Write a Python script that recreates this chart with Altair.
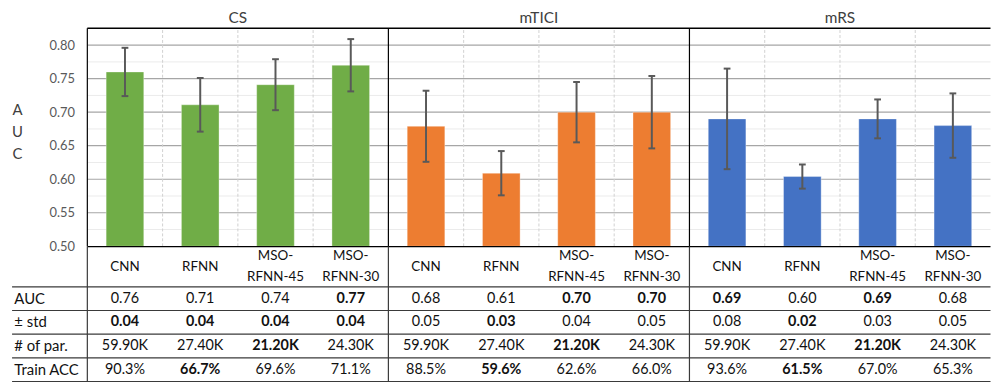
import altair as alt
import pandas as pd

# ---------------- data ----------------
panels = ["CS", "mTICI", "mRS"]
panel_colors = ["#70AD47", "#ED7D31", "#4472C4"]
models = ["CNN", "RFNN", "MSO-\nRFNN-45", "MSO-\nRFNN-30"]

cs_auc = [0.760, 0.711, 0.741, 0.770]
mtici_auc = [0.679, 0.609, 0.700, 0.700]
mrs_auc = [0.690, 0.604, 0.690, 0.680]

cs_err = [0.036, 0.040, 0.038, 0.039]
mtici_err = [0.053, 0.033, 0.045, 0.054]
mrs_err = [0.075, 0.018, 0.029, 0.048]

auc_ticks = [0.50, 0.55, 0.60, 0.65, 0.70, 0.75, 0.80]
minor_ticks = [0.525, 0.575, 0.625, 0.675, 0.725, 0.775]

row_labels = ["AUC", "\u00b1 std", "# of par.", "Train ACC"]
row_auc = ["0.76", "0.71", "0.74", "0.77", "0.68", "0.61", "0.70", "0.70", "0.69", "0.60", "0.69", "0.68"]
row_auc_bold = [0, 0, 0, 1, 0, 0, 1, 1, 1, 0, 1, 0]
row_std = ["0.04", "0.04", "0.04", "0.04", "0.05", "0.03", "0.04", "0.05", "0.08", "0.02", "0.03", "0.05"]
row_std_bold = [1, 1, 1, 1, 0, 1, 0, 0, 0, 1, 0, 0]
row_par = ["59.90K", "27.40K", "21.20K", "24.30K"] * 3
row_par_bold = [0, 0, 1, 0] * 3
row_acc = ["90.3%", "66.7%", "69.6%", "71.1%", "88.5%", "59.6%", "62.6%", "66.0%", "93.6%", "61.5%", "67.0%", "65.3%"]
row_acc_bold = [0, 1, 0, 0, 0, 1, 0, 0, 0, 1, 0, 0]

# ---------------- layout helpers ----------------
W, H = 991, 377
FONT = "Lato"
NS = len(panels) * len(models)  # 12 slots
HEADER_H = 1.7  # header row height in row units
X_SCALE = alt.Scale(domain=[-1, NS], range=[4.1, 990.5], nice=False, zero=False)
AUC_SCALE = alt.Scale(domain=[0.5, 0.825], range=[238.7, 19], nice=False, zero=False)
TAB_SCALE = alt.Scale(domain=[0, HEADER_H + 4], range=[239, 375], nice=False, zero=False)

aucs = [cs_auc, mtici_auc, mrs_auc]
errs = [cs_err, mtici_err, mrs_err]

bars = []
for p, panel in enumerate(panels):
    for c, m in enumerate(models):
        s = p * len(models) + c
        a, e = aucs[p][c], errs[p][c]
        bars.append(dict(panel=panel, model=m, x0=s + 0.25, x1=s + 0.75, xm=s + 0.5,
                         cl=s + 0.455, cr=s + 0.545, auc=a, lo=a - e, hi=a + e))
bars = pd.DataFrame(bars)


def X(field):
    return alt.X(field, type="quantitative", scale=X_SCALE, axis=None)


def YA(field):
    return alt.Y(field, type="quantitative", scale=AUC_SCALE, axis=None)


def YT(field):
    return alt.Y(field, type="quantitative", scale=TAB_SCALE, axis=None)


layers = []

# minor gridlines
layers.append(alt.Chart(pd.DataFrame({"v": minor_ticks})).mark_rule(color="#ebebeb", strokeWidth=1).encode(
    x=alt.X(datum=0, type="quantitative", scale=X_SCALE, axis=None),
    x2=alt.X2(datum=NS), y=YA("v")))
# major gridlines
layers.append(alt.Chart(pd.DataFrame({"v": auc_ticks[1:]})).mark_rule(color="#a6a6a6", strokeWidth=1.2).encode(
    x=alt.X(datum=0, type="quantitative", scale=X_SCALE, axis=None),
    x2=alt.X2(datum=NS), y=YA("v")))
# dashed category separators
sep = [s for s in range(1, NS) if s % len(models) != 0]
layers.append(alt.Chart(pd.DataFrame({"s": sep})).mark_rule(color="#d0d0d0", strokeDash=[3, 2], strokeWidth=1).encode(
    x=X("s"), y=alt.Y(datum=0.5, type="quantitative", scale=AUC_SCALE, axis=None), y2=alt.Y2(datum=0.825)))

# bars with the AUC axis
layers.append(alt.Chart(bars).mark_bar(stroke="#ffffff", strokeOpacity=0.35, strokeWidth=1).encode(
    x=X("x0"), x2="x1",
    y=alt.Y("auc:Q", scale=AUC_SCALE,
            axis=alt.Axis(values=auc_ticks, format=".2f", offset=-80, domain=False, ticks=False, grid=False,
                          labelPadding=13, labelFont=FONT, labelFontSize=13, labelColor="#595959",
                          title=["A", "U", "C"], titleAngle=0, titleFont=FONT, titleFontSize=15,
                          titleFontWeight="normal", titleColor="#404040", titleLineHeight=22,
                          titleX=-71, titleY=101, titleAlign="center", titleBaseline="middle")),
    y2=alt.Y2(datum=0.5),
    color=alt.Color("panel:N", scale=alt.Scale(domain=panels, range=panel_colors), legend=None)))

# error bars
ERR = "#595959"
layers.append(alt.Chart(bars).mark_rule(color=ERR, strokeWidth=2).encode(x=X("xm"), y=YA("lo"), y2="hi"))
layers.append(alt.Chart(bars).mark_rule(color=ERR, strokeWidth=2).encode(x=X("cl"), x2="cr", y=YA("hi")))
layers.append(alt.Chart(bars).mark_rule(color=ERR, strokeWidth=2).encode(x=X("cl"), x2="cr", y=YA("lo")))

# plot frame: top line and panel borders
layers.append(alt.Chart(pd.DataFrame({"v": [0.825]})).mark_rule(color="#000000", strokeWidth=1.5).encode(
    x=alt.X(datum=0, type="quantitative", scale=X_SCALE, axis=None), x2=alt.X2(datum=NS), y=YA("v")))
borders = pd.DataFrame({"s": list(range(0, NS, len(models)))})
layers.append(alt.Chart(borders).mark_rule(color="#000000", strokeWidth=1.2).encode(
    x=X("s"), y=alt.Y(datum=0.5, type="quantitative", scale=AUC_SCALE, axis=None), y2=alt.Y2(datum=0.825)))

# ---------- table ----------
TXT = "#111111"
LINE = "#3a3a3a"
# header top line (bottom of plot)
layers.append(alt.Chart(pd.DataFrame({"r": [0]})).mark_rule(color="#000000", strokeWidth=1.2).encode(
    x=alt.X(datum=0, type="quantitative", scale=X_SCALE, axis=None), x2=alt.X2(datum=NS), y=YT("r")))
# row lines
layers.append(alt.Chart(pd.DataFrame({"r": [HEADER_H + i for i in range(5)]})).mark_rule(color=LINE, strokeWidth=1.2).encode(
    x=alt.X(datum=-1, type="quantitative", scale=X_SCALE, axis=None), x2=alt.X2(datum=NS), y=YT("r")))
# vertical borders in table
layers.append(alt.Chart(borders).mark_rule(color=LINE, strokeWidth=1.2).encode(
    x=X("s"), y=alt.Y(datum=0, type="quantitative", scale=TAB_SCALE, axis=None), y2=alt.Y2(datum=HEADER_H + 4)))

# header (model names): single-line and two-line names
hdr = pd.DataFrame({"xm": [s + 0.5 for s in range(NS)], "txt": models * len(panels), "r": [HEADER_H / 2] * NS})
hdr["two"] = hdr["txt"].str.contains("\n")
layers.append(alt.Chart(hdr[~hdr.two]).mark_text(font=FONT, fontSize=13.5, color=TXT,
                                                 baseline="middle", align="center").encode(
    x=X("xm"), y=YT("r"), text="txt:N"))
layers.append(alt.Chart(hdr[hdr.two]).mark_text(font=FONT, fontSize=13.5, color=TXT, lineBreak="\n", lineHeight=21,
                                                baseline="middle", align="center", dy=-10.5).encode(
    x=X("xm"), y=YT("r"), text="txt:N"))

# cells
cells = []
for i, (vals, bold) in enumerate([(row_auc, row_auc_bold), (row_std, row_std_bold),
                                  (row_par, row_par_bold), (row_acc, row_acc_bold)]):
    for s in range(NS):
        cells.append(dict(xm=s + 0.5, r=HEADER_H + i + 0.5, txt=vals[s], bold=bold[s]))
cells = pd.DataFrame(cells)
layers.append(alt.Chart(cells[cells.bold == 0]).mark_text(font=FONT, fontSize=14.5, color=TXT,
                                                          baseline="middle", align="center").encode(
    x=X("xm"), y=YT("r"), text="txt:N"))
layers.append(alt.Chart(cells[cells.bold == 1]).mark_text(font=FONT, fontSize=14.5, color=TXT, fontWeight="bold",
                                                          baseline="middle", align="center").encode(
    x=X("xm"), y=YT("r"), text="txt:N"))

# row labels
lab = pd.DataFrame({"txt": row_labels, "r": [HEADER_H + i + 0.5 for i in range(4)], "xl": [-0.97] * 4})
layers.append(alt.Chart(lab).mark_text(font=FONT, fontSize=15, color=TXT, baseline="middle", align="left").encode(
    x=X("xl"), y=YT("r"), text="txt:N"))

# panel titles
tit = pd.DataFrame({"panel": panels, "xc": [p * len(models) + len(models) / 2 for p in range(len(panels))]})
layers.append(alt.Chart(tit).mark_text(font=FONT, fontSize=15.5, color="#404040", baseline="top", align="center").encode(
    x=X("xc"), y=alt.value(2), text="panel:N"))

chart = alt.layer(*layers).resolve_scale(y="independent").properties(
    width=W, height=H, padding=0, autosize=alt.AutoSizeParams(type="none"), background="#ffffff"
).configure_view(stroke=None)

chart.save("out.html", embed_options={"renderer": "svg", "actions": False})
